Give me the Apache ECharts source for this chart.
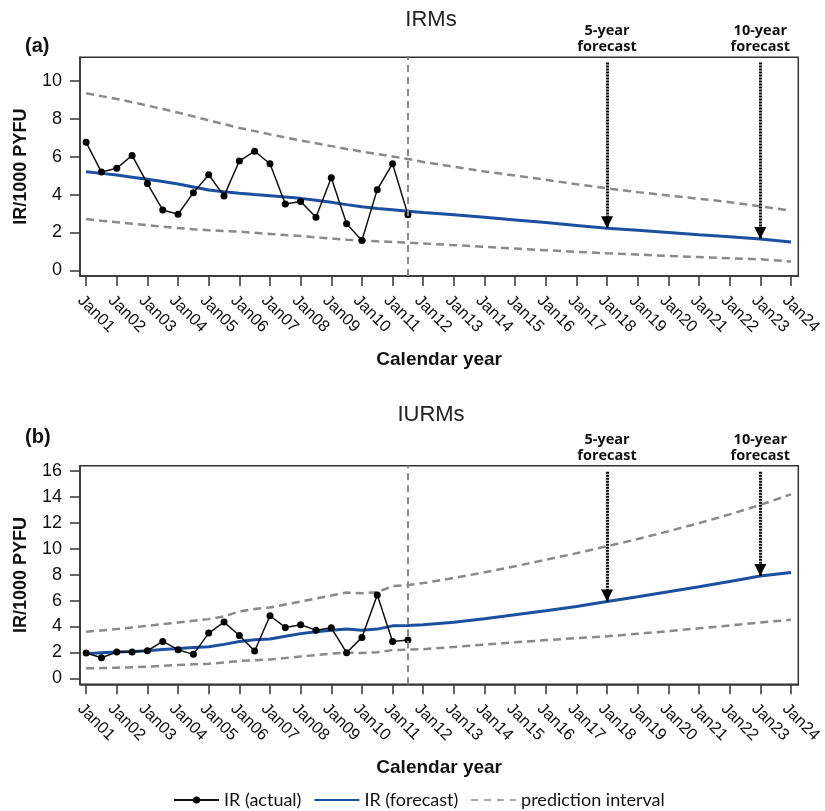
<!DOCTYPE html>
<html><head><meta charset="utf-8">
<script src="https://cdn.jsdelivr.net/npm/echarts@6/dist/echarts.min.js"></script>
<style>html,body{margin:0;padding:0;background:#fff}#c{width:825px;height:811px}</style>
</head><body><div id="c"></div>
<script>
// ---- data ----
const xTickLabels = ['Jan01','Jan02','Jan03','Jan04','Jan05','Jan06','Jan07','Jan08','Jan09','Jan10','Jan11','Jan12',
  'Jan13','Jan14','Jan15','Jan16','Jan17','Jan18','Jan19','Jan20','Jan21','Jan22','Jan23','Jan24'];
const xTickValues = [0,1,2,3,4,5,6,7,8,9,10,11,12,13,14,15,16,17,18,19,20,21,22,23];
const yTicksA = [0,2,4,6,8,10];
const yTicksB = [0,2,4,6,8,10,12,14,16];

// years since Jan01 (half-yearly observations)
const actualX = [0,0.5,1,1.5,2,2.5,3,3.5,4,4.5,5,5.5,6,6.5,7,7.5,8,8.5,9,9.5,10,10.5];
const irmActual  = [6.76,5.19,5.39,6.07,4.58,3.19,2.96,4.10,5.05,3.93,5.77,6.29,5.63,3.50,3.64,2.80,4.89,2.46,1.58,4.26,5.63,2.94];
const iurmActual = [1.95,1.59,2.03,2.03,2.13,2.85,2.21,1.85,3.49,4.34,3.31,2.11,4.83,3.93,4.13,3.72,3.90,1.98,3.16,6.44,2.85,2.95];

const modelX = [0,0.5,1,1.5,2,2.5,3,3.5,4,4.5,5,5.5,6,6.5,7,7.5,8,8.5,9,9.5,10,10.5,
  11,12,13,14,15,16,17,18,19,20,21,22,23];
const irmForecast = [5.21,5.12,5.03,4.92,4.81,4.69,4.56,4.40,4.24,4.15,4.07,4.00,3.94,3.87,3.80,3.70,3.59,3.47,3.36,3.27,3.20,3.12,
  3.05,2.93,2.80,2.66,2.52,2.37,2.22,2.11,2.00,1.88,1.77,1.65,1.50];
const irmUpper = [9.35,9.20,9.05,8.88,8.70,8.52,8.33,8.13,7.92,7.72,7.52,7.35,7.18,7.02,6.86,6.71,6.56,6.41,6.27,6.14,6.01,5.88,
  5.72,5.47,5.22,5.01,4.78,4.55,4.33,4.13,3.95,3.78,3.60,3.38,3.15];
const irmLower = [2.71,2.62,2.54,2.46,2.38,2.30,2.23,2.17,2.12,2.08,2.04,1.98,1.92,1.86,1.81,1.74,1.68,1.62,1.57,1.53,1.50,1.46,
  1.42,1.33,1.24,1.15,1.06,0.98,0.90,0.83,0.76,0.70,0.64,0.58,0.47];

const iurmForecast = [1.90,1.97,2.03,2.07,2.13,2.22,2.30,2.38,2.44,2.62,2.85,2.98,3.03,3.25,3.45,3.60,3.72,3.80,3.72,3.80,4.05,4.08,
  4.14,4.33,4.60,4.91,5.22,5.55,5.93,6.30,6.68,7.07,7.47,7.90,8.17];
const iurmUpper = [3.59,3.70,3.80,3.93,4.06,4.18,4.31,4.44,4.57,4.78,5.16,5.35,5.47,5.70,5.93,6.16,6.39,6.62,6.57,6.65,7.12,7.21,
  7.35,7.75,8.18,8.65,9.15,9.65,10.20,10.75,11.35,11.98,12.65,13.38,14.20];
const iurmLower = [0.77,0.79,0.82,0.86,0.90,0.96,1.03,1.08,1.13,1.22,1.34,1.40,1.46,1.57,1.69,1.80,1.90,2.00,1.95,2.02,2.18,2.21,
  2.25,2.42,2.60,2.78,2.95,3.10,3.24,3.44,3.64,3.86,4.08,4.31,4.52];

const cutoffX = 10.5;                 // Jul11: end of observed data
const horizonX = [17, 22];            // Jan18, Jan23
const horizonLabels = ['5-year\nforecast', '10-year\nforecast'];
const panelTitles = ['IRMs', 'IURMs'];
const panelTags = ['(a)', '(b)'];

// ---- styles ----
const FONT = '"Liberation Sans", Arial, sans-serif';
const AX = '#333';
const GRAY = '#8a8a8a';
const BLUE = '#1c4f9f';

const zip = (xs, ys) => xs.map((x, i) => [x, ys[i]]);

function xAxisFor(gi) {
  return {
    type: 'value', gridIndex: gi, min: -0.2, max: 23.24,
    splitLine: { show: false },
    axisLine: { show: true, onZero: false, lineStyle: { color: AX, width: 1.5 } },
    axisTick: { show: true, customValues: xTickValues, length: 10, lineStyle: { color: AX, width: 1.5 } },
    axisLabel: {
      customValues: xTickValues,
      formatter: v => xTickLabels[xTickValues.indexOf(Math.round(v))],
      rotate: -45, align: 'left', verticalAlign: 'top', margin: 16,
      fontSize: 16.5, color: '#111', fontFamily: FONT
    },
    name: 'Calendar year', nameLocation: 'middle', nameGap: 74,
    nameTextStyle: { fontSize: 19, fontWeight: 'bold', color: '#111', fontFamily: FONT }
  };
}
function yAxisFor(gi, min, max, ticks) {
  return {
    type: 'value', gridIndex: gi, min: min, max: max,
    splitLine: { show: false },
    axisLine: { show: true, onZero: false, lineStyle: { color: AX, width: 1.5 } },
    axisTick: { show: true, customValues: ticks, length: 10, lineStyle: { color: AX, width: 1.5 } },
    axisLabel: { customValues: ticks, margin: 18, fontSize: 18, color: '#111', fontFamily: FONT },
    name: 'IR/1000 PYFU', nameLocation: 'middle', nameGap: 50,
    nameTextStyle: { fontSize: 18, fontWeight: 'bold', color: '#111', fontFamily: FONT }
  };
}

function panelSeries(gi, actual, fc, up, lo, arrowTop) {
  const dashed = { color: GRAY, width: 2.5, type: [8, 5] };
  const arrows = horizonX.map((hx, k) => {
    const v = fc[modelX.indexOf(hx)];
    return [
      { coord: [hx, arrowTop], label: { formatter: horizonLabels[k] } },
      { coord: [hx, v] }
    ];
  });
  return [
    { name: 'prediction interval', type: 'line', xAxisIndex: gi, yAxisIndex: gi, data: zip(modelX, up),
      symbol: 'none', lineStyle: dashed, itemStyle: { color: GRAY }, silent: true, z: 2 },
    { name: 'prediction interval', type: 'line', xAxisIndex: gi, yAxisIndex: gi, data: zip(modelX, lo),
      symbol: 'none', lineStyle: dashed, itemStyle: { color: GRAY }, silent: true, z: 2 },
    { name: 'IR (forecast)', type: 'line', xAxisIndex: gi, yAxisIndex: gi, data: zip(modelX, fc),
      symbol: 'none', lineStyle: { color: BLUE, width: 3 }, itemStyle: { color: BLUE }, silent: true, z: 3,
      markLine: {
        silent: true, animation: false,
        symbol: ['none', 'triangle'], symbolSize: 12, symbolOffset: [0, [0, 6]],
        lineStyle: { color: '#000', width: 3, type: [2, 1] },
        itemStyle: { color: '#000' },
        emphasis: { disabled: true },
        label: { show: true, position: 'start', distance: 8, color: '#111', fontSize: 14.5, fontWeight: 'bold',
                 lineHeight: 16, fontFamily: '"Open Sans", sans-serif', align: 'center' },
        data: arrows
      } },
    { name: 'IR (actual)', type: 'line', xAxisIndex: gi, yAxisIndex: gi, data: zip(actualX, actual),
      symbol: 'circle', symbolSize: 7, lineStyle: { color: '#111', width: 1.5 }, itemStyle: { color: '#000' },
      silent: true, z: 4,
      markLine: {
        silent: true, animation: false, symbol: ['none', 'none'],
        lineStyle: { color: GRAY, width: 2, type: [7, 5] },
        label: { show: false }, emphasis: { disabled: true },
        data: [{ xAxis: cutoffX }]
      } }
  ];
}

const chart = echarts.init(document.getElementById('c'), null, { renderer: 'canvas' });
chart.setOption({
  animation: false,
  backgroundColor: '#fff',
  title: [
    { text: panelTitles[0], left: 431, top: 9, textAlign: 'center', padding: 0,
      textStyle: { fontSize: 22, fontWeight: 'normal', color: '#222', fontFamily: FONT } },
    { text: panelTags[0], left: 25, top: 36, padding: 0,
      textStyle: { fontSize: 20, fontWeight: 'bold', color: '#111', fontFamily: FONT } },
    { text: panelTitles[1], left: 431, top: 404, textAlign: 'center', padding: 0,
      textStyle: { fontSize: 22, fontWeight: 'normal', color: '#222', fontFamily: FONT } },
    { text: panelTags[1], left: 25, top: 427, padding: 0,
      textStyle: { fontSize: 20, fontWeight: 'bold', color: '#111', fontFamily: FONT } }
  ],
  legend: {
    left: 173, top: 791, padding: 0, itemWidth: 45, itemHeight: 9, itemGap: 12,
    data: [
      { name: 'IR (actual)' },
      { name: 'IR (forecast)', itemStyle: { opacity: 0 } },
      { name: 'prediction interval', itemStyle: { opacity: 0 }, lineStyle: { width: 1.5, type: [7, 6] } }
    ],
    textStyle: { fontSize: 18, color: '#111', fontFamily: 'Lato, "Open Sans", sans-serif' },
    selectedMode: false
  },
  grid: [
    { left: 80, top: 57.3, width: 718.3, height: 218.7, show: true, borderColor: AX, borderWidth: 1.5, containLabel: false },
    { left: 80, top: 465.7, width: 718.3, height: 218.6, show: true, borderColor: AX, borderWidth: 1.5, containLabel: false }
  ],
  xAxis: [xAxisFor(0), xAxisFor(1)],
  yAxis: [yAxisFor(0, -0.3, 11.25, yTicksA), yAxisFor(1, -0.46, 16.41, yTicksB)],
  series: [].concat(
    panelSeries(0, irmActual, irmForecast, irmUpper, irmLower, 10.97),
    panelSeries(1, iurmActual, iurmForecast, iurmUpper, iurmLower, 15.95)
  )
});
</script>
</body></html>
